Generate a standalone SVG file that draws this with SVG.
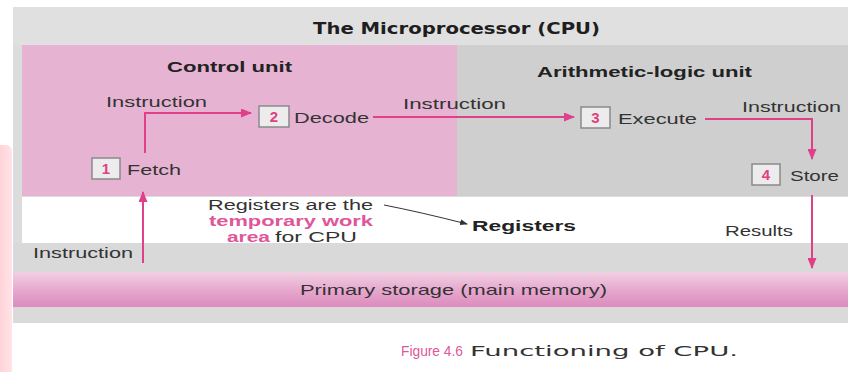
<svg xmlns="http://www.w3.org/2000/svg" width="848" height="372" viewBox="0 0 848 372">
  <defs>
    <linearGradient id="memGrad" x1="0" y1="0" x2="0" y2="1">
      <stop offset="0" stop-color="#f1d0e3"/>
      <stop offset="0.55" stop-color="#e6a6cd"/>
      <stop offset="1" stop-color="#db8cbd"/>
    </linearGradient>
    <linearGradient id="leftGrad" x1="0" y1="0" x2="1" y2="0">
      <stop offset="0" stop-color="#ffd3d8"/>
      <stop offset="1" stop-color="#ffe3e6"/>
    </linearGradient>
    <marker id="arrPink" markerUnits="userSpaceOnUse" markerWidth="11" markerHeight="9" refX="10" refY="4.5" orient="auto">
      <path d="M0,0 L11,4.5 L0,9 z" fill="#e0408a"/>
    </marker>
    <marker id="arrDark" markerUnits="userSpaceOnUse" markerWidth="8" markerHeight="6" refX="7" refY="3" orient="auto">
      <path d="M0,0 L8,3 L0,6 z" fill="#333"/>
    </marker>
  </defs>
  <style>
    .t { font-family: "Liberation Sans", Arial, sans-serif; font-size: 15px; fill: #333; }
    .r { font-family: "Liberation Sans", Arial, sans-serif; font-size: 14px; fill: #333; }
    .b { font-family: "Liberation Sans", Arial, sans-serif; font-size: 15px; font-weight: bold; fill: #222; }
    .pb { font-family: "Liberation Sans", Arial, sans-serif; font-size: 14px; font-weight: bold; fill: #e0569a; }
    .v { font-family: "DejaVu Sans", Verdana, sans-serif; font-size: 14px; fill: #333; }
    .vb { font-family: "DejaVu Sans", Verdana, sans-serif; font-size: 15px; font-weight: bold; fill: #1e1e1e; }
    .num { font-family: "Liberation Sans", Arial, sans-serif; font-size: 15px; font-weight: bold; fill: #e0407f; text-anchor: middle; }
    .box { fill: #ececec; stroke: #8a8a8a; stroke-width: 1.5; }
    .conn { fill: none; stroke: #e0408a; stroke-width: 2; }
  </style>

  <!-- background -->
  <rect x="0" y="0" width="848" height="372" fill="#ffffff"/>
  <path d="M0,145 L5,145 Q12,145 12,152 L12,372 L0,372 z" fill="url(#leftGrad)"/>
  <rect x="13" y="7" width="835" height="316" fill="#dcdcdc"/>
  <rect x="13" y="7" width="835" height="38" fill="#e0e0e0"/>
  <rect id="control-unit-area" x="22" y="45" width="435" height="151" fill="#e6b3d3"/>
  <rect id="alu-area" x="457" y="45" width="391" height="151" fill="#cfcfcf"/>
  <rect id="registers-area" x="22" y="197" width="826" height="46" fill="#ffffff"/>
  <rect x="13" y="243" width="835" height="29" fill="#d9d9d9"/>
  <rect id="memory-area" x="13" y="272" width="835" height="35" fill="url(#memGrad)"/>
  <rect x="13" y="307" width="835" height="16" fill="#dadada"/>

  <!-- headings -->
  <text class="vb" x="313" y="34" textLength="287" lengthAdjust="spacingAndGlyphs">The Microprocessor (CPU)</text>
  <text class="b" x="167" y="72" textLength="125" lengthAdjust="spacingAndGlyphs">Control unit</text>
  <text class="b" x="537" y="77" textLength="215" lengthAdjust="spacingAndGlyphs">Arithmetic-logic unit</text>

  <!-- connectors -->
  <g id="connectors">
    <path class="conn" d="M143,263 L143,192" marker-end="url(#arrPink)"/>
    <path class="conn" d="M145,153 L145,113 L251,113" marker-end="url(#arrPink)"/>
    <path class="conn" d="M373,117 L574,117" marker-end="url(#arrPink)"/>
    <path class="conn" d="M705,119 L812,119 L812,159" marker-end="url(#arrPink)"/>
    <path class="conn" d="M812,195 L812,268" marker-end="url(#arrPink)"/>
    <path d="M384,205 Q420,212 467,224" fill="none" stroke="#333" stroke-width="1" marker-end="url(#arrDark)"/>
    <text class="t" x="106" y="107" textLength="101" lengthAdjust="spacingAndGlyphs">Instruction</text>
    <text class="t" x="403" y="109" textLength="103" lengthAdjust="spacingAndGlyphs">Instruction</text>
    <text class="t" x="742" y="112" textLength="99" lengthAdjust="spacingAndGlyphs">Instruction</text>
    <text class="t" x="33" y="258" textLength="100" lengthAdjust="spacingAndGlyphs">Instruction</text>
    <text class="t" x="725" y="236" textLength="68" lengthAdjust="spacingAndGlyphs">Results</text>
  </g>

  <!-- nodes -->
  <g id="fetch">
    <rect class="box" x="92" y="158" width="28" height="21"/>
    <text class="num" x="106" y="174">1</text>
    <text class="t" x="127" y="175" textLength="54" lengthAdjust="spacingAndGlyphs">Fetch</text>
  </g>
  <g id="decode">
    <rect class="box" x="259" y="106" width="30" height="21"/>
    <text class="num" x="274" y="122">2</text>
    <text class="t" x="294" y="123" textLength="75" lengthAdjust="spacingAndGlyphs">Decode</text>
  </g>
  <g id="execute">
    <rect class="box" x="581" y="107" width="29" height="21"/>
    <text class="num" x="595.5" y="123">3</text>
    <text class="t" x="618" y="124" textLength="79" lengthAdjust="spacingAndGlyphs">Execute</text>
  </g>
  <g id="store">
    <rect class="box" x="752" y="164" width="28" height="21"/>
    <text class="num" x="766" y="180">4</text>
    <text class="t" x="790" y="181" textLength="49" lengthAdjust="spacingAndGlyphs">Store</text>
  </g>
  <g id="registers">
    <text class="r" x="208" y="210" textLength="165" lengthAdjust="spacingAndGlyphs">Registers are the</text>
    <text class="pb" x="209" y="226" textLength="164" lengthAdjust="spacingAndGlyphs">temporary work</text>
    <text class="pb" x="227" y="242" textLength="43" lengthAdjust="spacingAndGlyphs">area</text>
    <text class="r" x="275" y="242" textLength="82" lengthAdjust="spacingAndGlyphs">for CPU</text>
    <text class="b" x="472" y="231" textLength="104" lengthAdjust="spacingAndGlyphs">Registers</text>
  </g>
  <g id="primary-storage">
    <text class="t" x="300" y="295" textLength="307" lengthAdjust="spacingAndGlyphs">Primary storage (main memory)</text>
  </g>

  <!-- caption -->
  <text x="401" y="356" style="font-family:'Liberation Sans', Arial, sans-serif; font-size:15px; fill:#e0569a" textLength="62" lengthAdjust="spacingAndGlyphs">Figure 4.6</text>
  <text class="v" x="470" y="356" textLength="268" lengthAdjust="spacingAndGlyphs">Functioning of CPU.</text>
</svg>
